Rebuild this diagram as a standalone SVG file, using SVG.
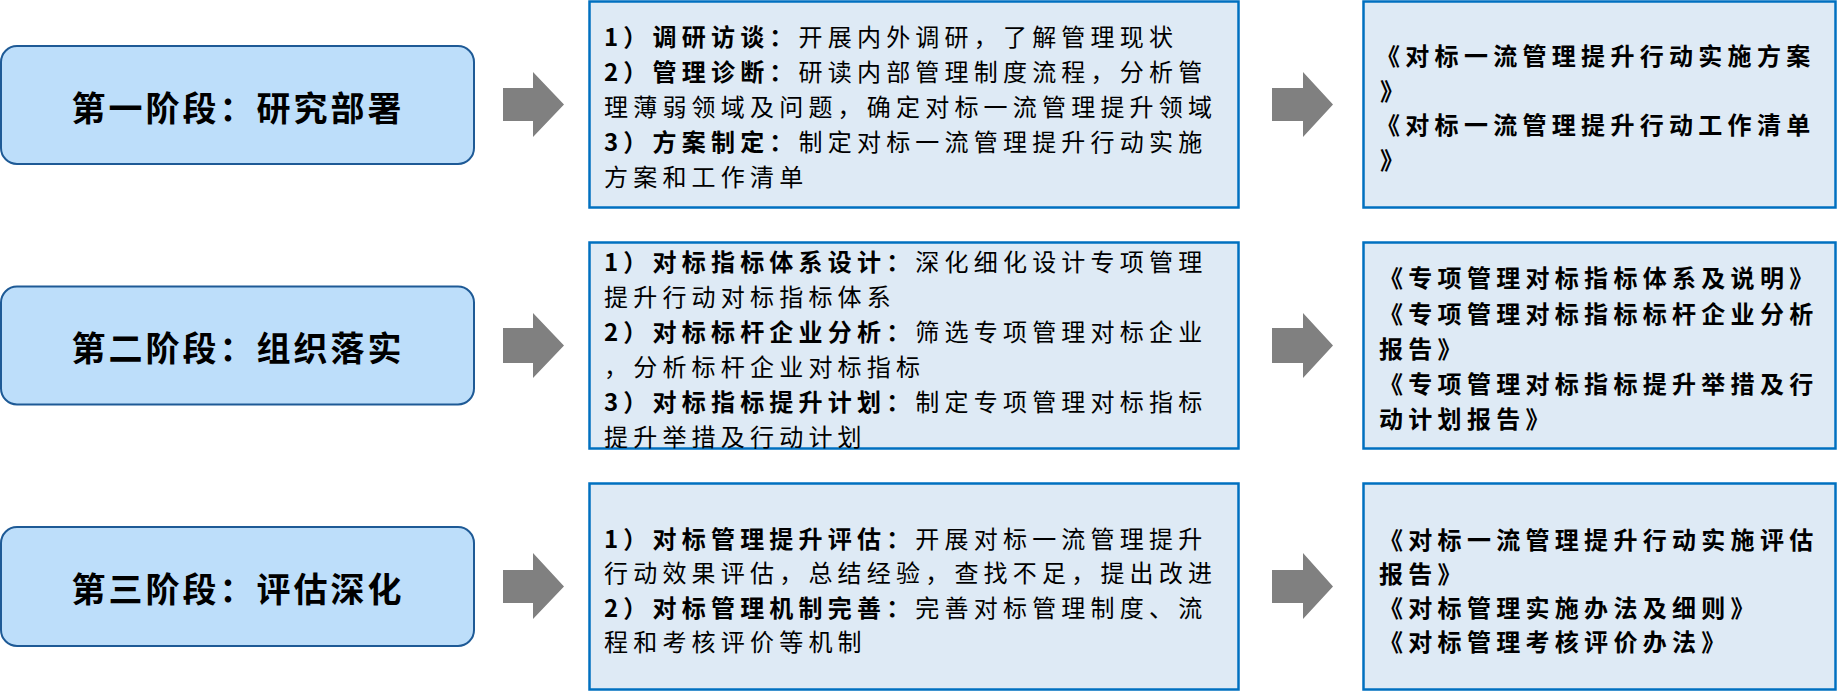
<svg xmlns="http://www.w3.org/2000/svg" width="1838" height="691" viewBox="0 0 1838 691">
<style>
.stage{fill:#BDDEFA;stroke:#1E5A96;stroke-width:2}
.box{fill:#DEEAF5;stroke:#0070C0;stroke-width:2.5}
.arrow{fill:#808080}
.st{font-family:"Noto Sans CJK SC","Noto Sans",sans-serif;font-size:34px;font-weight:bold;letter-spacing:3px;fill:#000;text-anchor:middle}
.mt{font-family:"Noto Sans CJK SC","Noto Sans",sans-serif;font-size:24px;letter-spacing:5.2px;fill:#000}
.rt{font-family:"Noto Sans CJK SC","Noto Sans",sans-serif;font-size:24px;font-weight:bold;letter-spacing:5.3px;fill:#000}
.b{font-weight:bold}
</style>
<rect width="1838" height="691" fill="#FFFFFF"/>
<g id="stage1">
<rect class="stage" x="1" y="46" width="473" height="118" rx="16"/>
<text class="st" x="238" y="121">第一阶段：研究部署</text>
</g>
<g id="stage2">
<rect class="stage" x="1" y="286.5" width="473" height="118" rx="16"/>
<text class="st" x="238" y="361">第二阶段：组织落实</text>
</g>
<g id="stage3">
<rect class="stage" x="1" y="527" width="473" height="119" rx="16"/>
<text class="st" x="238" y="602">第三阶段：评估深化</text>
</g>
<g id="tasks1">
<rect class="box" x="589.5" y="1.5" width="649" height="206"/>
<text class="mt" x="604" y="46"><tspan class="b">1）调研访谈：</tspan>开展内外调研，了解管理现状</text>
<text class="mt" x="604" y="81"><tspan class="b">2）管理诊断：</tspan>研读内部管理制度流程，分析管</text>
<text class="mt" x="604" y="116">理薄弱领域及问题，确定对标一流管理提升领域</text>
<text class="mt" x="604" y="151"><tspan class="b">3）方案制定：</tspan>制定对标一流管理提升行动实施</text>
<text class="mt" x="604" y="186">方案和工作清单</text>
</g>
<g id="tasks2">
<rect class="box" x="589.5" y="242.5" width="649" height="206"/>
<text class="mt" x="604" y="271"><tspan class="b">1）对标指标体系设计：</tspan>深化细化设计专项管理</text>
<text class="mt" x="604" y="306">提升行动对标指标体系</text>
<text class="mt" x="604" y="341"><tspan class="b">2）对标标杆企业分析：</tspan>筛选专项管理对标企业</text>
<text class="mt" x="604" y="376">，分析标杆企业对标指标</text>
<text class="mt" x="604" y="411"><tspan class="b">3）对标指标提升计划：</tspan>制定专项管理对标指标</text>
<text class="mt" x="604" y="446">提升举措及行动计划</text>
</g>
<g id="tasks3">
<rect class="box" x="589.5" y="483.5" width="649" height="206"/>
<text class="mt" x="604" y="548"><tspan class="b">1）对标管理提升评估：</tspan>开展对标一流管理提升</text>
<text class="mt" x="604" y="582">行动效果评估，总结经验，查找不足，提出改进</text>
<text class="mt" x="604" y="617"><tspan class="b">2）对标管理机制完善：</tspan>完善对标管理制度、流</text>
<text class="mt" x="604" y="651">程和考核评价等机制</text>
</g>
<g id="outputs1">
<rect class="box" x="1363.5" y="1.5" width="472" height="206"/>
<text class="rt" x="1376" y="65">《对标一流管理提升行动实施方案</text>
<text class="rt" x="1380" y="100">》</text>
<text class="rt" x="1376" y="134">《对标一流管理提升行动工作清单</text>
<text class="rt" x="1380" y="169">》</text>
</g>
<g id="outputs2">
<rect class="box" x="1363.5" y="242.5" width="472" height="206"/>
<text class="rt" x="1379" y="287">《专项管理对标指标体系及说明》</text>
<text class="rt" x="1379" y="323">《专项管理对标指标标杆企业分析</text>
<text class="rt" x="1379" y="358">报告》</text>
<text class="rt" x="1379" y="393">《专项管理对标指标提升举措及行</text>
<text class="rt" x="1379" y="428">动计划报告》</text>
</g>
<g id="outputs3">
<rect class="box" x="1363.5" y="483.5" width="472" height="206"/>
<text class="rt" x="1379" y="549">《对标一流管理提升行动实施评估</text>
<text class="rt" x="1379" y="583">报告》</text>
<text class="rt" x="1379" y="617">《对标管理实施办法及细则》</text>
<text class="rt" x="1379" y="651">《对标管理考核评价办法》</text>
</g>
<g id="connectors">
<polygon class="arrow" points="503,88 533,88 533,72 564,104.5 533,137 533,121 503,121"/>
<polygon class="arrow" points="503,328 533,328 533,313 564,345.5 533,378 533,363 503,363"/>
<polygon class="arrow" points="503,570 533,570 533,553 564,586.5 533,619 533,603 503,603"/>
<polygon class="arrow" points="1272,88 1303,88 1303,72 1333,104.5 1303,137 1303,121 1272,121"/>
<polygon class="arrow" points="1272,328 1303,328 1303,313 1333,345.5 1303,378 1303,363 1272,363"/>
<polygon class="arrow" points="1272,570 1303,570 1303,553 1333,586.5 1303,619 1303,603 1272,603"/>
</g>
</svg>
